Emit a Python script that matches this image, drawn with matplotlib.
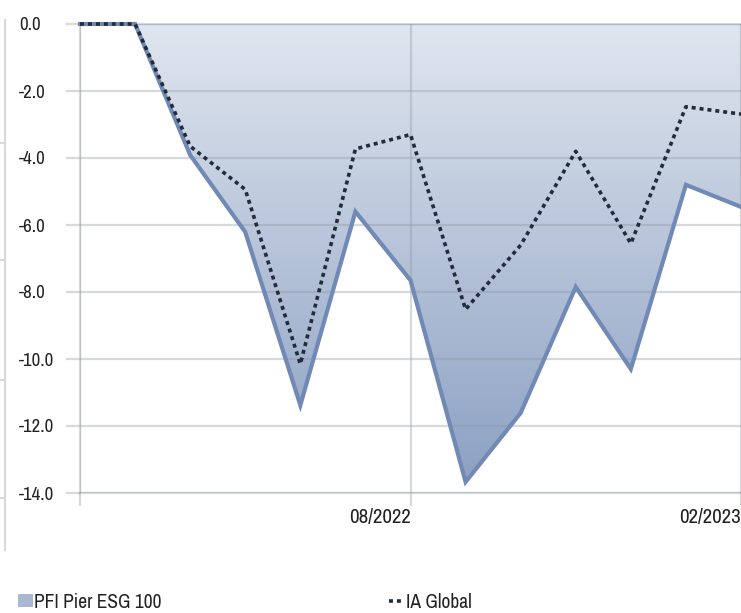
import matplotlib
matplotlib.use('Agg')
import matplotlib.pyplot as plt
import numpy as np
from matplotlib.colors import LinearSegmentedColormap
from matplotlib.lines import Line2D
from matplotlib.patches import Patch
from matplotlib import font_manager

# prefer a narrow sans face if one is installed
names = sorted({f.name for f in font_manager.fontManager.ttflist})
condensed = [n for n in names if 'Narrow' in n or 'Condensed' in n]
plt.rcParams['font.family'] = condensed[:1] + ['Liberation Sans', 'DejaVu Sans']

# monthly drawdown series (%)
months = ['02/2022', '03/2022', '04/2022', '05/2022', '06/2022', '07/2022', '08/2022',
          '09/2022', '10/2022', '11/2022', '12/2022', '01/2023', '02/2023']
pfi_pier = [0.0, 0.0, -3.91, -6.21, -11.38, -5.60, -7.65,
            -13.67, -11.61, -7.85, -10.30, -4.80, -5.46]
ia_global = [0.0, 0.0, -3.65, -4.94, -10.15, -3.73, -3.30,
             -8.52, -6.60, -3.80, -6.55, -2.47, -2.69]
y_ticks = [0, -2, -4, -6, -8, -10, -12, -14]
x_labels = ['08/2022', '02/2023']

grid_rgb = (0.55, 0.58, 0.62)
grid_a = 0.34
grid_col = grid_rgb + (grid_a,)
line_col = '#7189b5'
dot_col = '#232b3a'
text_col = '#222222'

fig = plt.figure(figsize=(7.41, 6.13), dpi=100)
ax = fig.add_axes([80/741, 1 - 493/613, 661/741, 469/613])

x = np.arange(len(months))

# area under the fund line, filled with a vertical gradient
area = ax.fill_between(x, pfi_pier, 0, color='none', linewidth=0)
cmap = LinearSegmentedColormap.from_list('shade', ['#e0e6ef', '#8a9fc2'])
grad = np.linspace(0, 1, 256).reshape(-1, 1)
img = ax.imshow(grad, cmap=cmap, extent=[0, 12, -14, 0], aspect='auto',
                origin='upper', zorder=1)
img.set_clip_path(area.get_paths()[0], transform=ax.transData)

ax.plot(x, pfi_pier, color=line_col, lw=3.0, solid_joinstyle='miter',
        zorder=4, clip_on=False)
ax.plot(x, ia_global, color=dot_col, lw=2.6, linestyle=(0, (1.1, 1.1)),
        dash_capstyle='butt', zorder=5, clip_on=False)

ax.set_xlim(0, 12)
ax.set_ylim(-14, 0)

ax.set_yticks(y_ticks)
ax.set_yticklabels(['%.1f' % v for v in y_ticks])
ax.set_xticks([0, months.index(x_labels[0]), months.index(x_labels[1])])
ax.set_xticklabels([''] + x_labels)

ax.set_axisbelow(False)
ax.grid(True, color=grid_rgb, alpha=grid_a, lw=1.6)
for side in ['top', 'bottom', 'left']:
    ax.spines[side].set_color(grid_col)
    ax.spines[side].set_linewidth(1.6)
ax.spines['right'].set_visible(False)

ax.tick_params(axis='y', length=10, width=1.6, color=grid_col, pad=34,
               labelsize=13.5, labelcolor=text_col)
for lab in ax.get_yticklabels():
    lab.set_horizontalalignment('left')
ax.tick_params(axis='x', length=9, width=1.6, color=grid_col, pad=2,
               labelsize=15, labelcolor=text_col)
for lab in ax.get_xticklabels():
    lab.set_horizontalalignment('right')

# frame edge of the neighbouring panel on the far left
fig.add_artist(Line2D([5/741, 5/741], [1 - 20/613, 1 - 550/613], color='#d9d9d9', lw=1.5))
for yy in [143, 260, 380, 498]:
    fig.add_artist(Line2D([0, 5/741], [1 - yy/613, 1 - yy/613], color='#d9d9d9', lw=1.5))

# legend entries
h1 = Patch(facecolor='#a9b8d2', edgecolor='none')
h2 = Line2D([], [], color=dot_col, lw=2.6, linestyle=(0, (1.1, 1.1)))
fig.legend([h1], ['PFI Pier ESG 100'], loc='center left',
           bbox_to_anchor=(18/741, 1 - 602/613), frameon=False, fontsize=14,
           handlelength=0.75, handleheight=0.6, handletextpad=0.05,
           borderpad=0, borderaxespad=0, labelcolor=text_col)
fig.legend([h2], ['IA Global'], loc='center left',
           bbox_to_anchor=(389/741, 1 - 602/613), frameon=False, fontsize=14,
           handlelength=0.75, handletextpad=0.1,
           borderpad=0, borderaxespad=0, labelcolor=text_col)

fig.savefig('out.png', dpi=100)
